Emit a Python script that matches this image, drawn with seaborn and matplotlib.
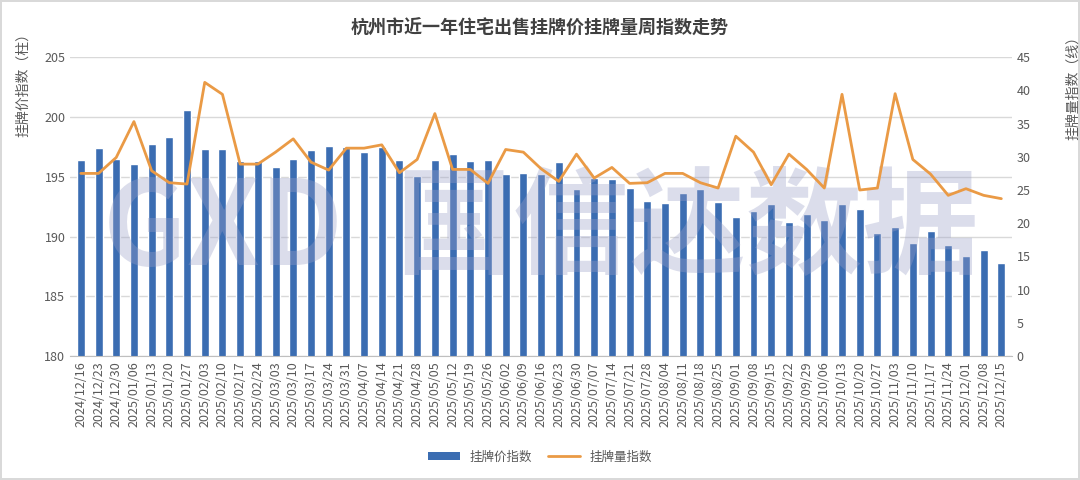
import numpy as np
import pandas as pd
import matplotlib
matplotlib.use("Agg")
import matplotlib.pyplot as plt
import seaborn as sns
from matplotlib.patches import Patch
from matplotlib.lines import Line2D

# weekly dates (Mondays)
weeks = [
    "2024/12/16", "2024/12/23", "2024/12/30", "2025/01/06", "2025/01/13", "2025/01/20",
    "2025/01/27", "2025/02/03", "2025/02/10", "2025/02/17", "2025/02/24", "2025/03/03",
    "2025/03/10", "2025/03/17", "2025/03/24", "2025/03/31", "2025/04/07", "2025/04/14",
    "2025/04/21", "2025/04/28", "2025/05/05", "2025/05/12", "2025/05/19", "2025/05/26",
    "2025/06/02", "2025/06/09", "2025/06/16", "2025/06/23", "2025/06/30", "2025/07/07",
    "2025/07/14", "2025/07/21", "2025/07/28", "2025/08/04", "2025/08/11", "2025/08/18",
    "2025/08/25", "2025/09/01", "2025/09/08", "2025/09/15", "2025/09/22", "2025/09/29",
    "2025/10/06", "2025/10/13", "2025/10/20", "2025/10/27", "2025/11/03", "2025/11/10",
    "2025/11/17", "2025/11/24", "2025/12/01", "2025/12/08", "2025/12/15",
]

# listing price index (bars, left axis)
price_index = [
    196.4, 197.4, 196.5, 196.1, 197.7, 198.3, 200.6, 197.3, 197.3, 196.3,
    196.3, 195.8, 196.5, 197.2, 197.6, 197.5, 197.1, 197.5, 196.4, 195.1,
    196.4, 196.9, 196.3, 196.4, 195.2, 195.3, 195.2, 196.2, 194.0, 194.9,
    194.8, 194.1, 193.0, 192.8, 193.6, 194.0, 192.9, 191.6, 192.1, 192.7,
    191.2, 191.9, 191.4, 192.7, 192.3, 190.3, 190.8, 189.5, 190.5, 189.3,
    188.4, 188.9, 187.8,
]

# listing volume index (line, right axis)
volume_index = [
    27.5, 27.5, 29.9, 35.3, 27.9, 26.1, 25.9, 41.2, 39.4, 28.9,
    28.9, 30.7, 32.7, 29.2, 28.0, 31.3, 31.3, 31.8, 27.6, 29.6,
    36.5, 28.1, 28.1, 26.0, 31.1, 30.7, 28.2, 26.3, 30.4, 26.8,
    28.4, 26.0, 26.1, 27.5, 27.5, 26.1, 25.3, 33.1, 30.7, 25.8,
    30.4, 28.1, 25.3, 39.4, 25.0, 25.3, 39.5, 29.6, 27.4, 24.2,
    25.2, 24.2, 23.7,
]

title = "杭州市近一年住宅出售挂牌价挂牌量周指数走势"
left_label = "挂牌价指数（柱）"
right_label = "挂牌量指数（线）"
bar_name = "挂牌价指数"
line_name = "挂牌量指数"

bar_color = "#3B6DB2"
line_color = "#EA9A45"
text_color = "#595959"

sns.set_style("white")
plt.rcParams["font.family"] = ["Noto Sans CJK SC", "DejaVu Sans"]

df = pd.DataFrame({"week": weeks, "price": price_index, "volume": volume_index})
df["pos"] = np.arange(len(df))

fig = plt.figure(figsize=(10.8, 4.8), dpi=100)
fig.patch.set_edgecolor("#d9d9d9")
fig.patch.set_linewidth(1.5)
ax = fig.add_axes([0.065, 0.258, 0.872, 0.623])

# watermark (faint), kept inside the plot area
ax.text(0.5, 0.42, "GXD  国信达数据", transform=ax.transAxes, fontsize=84,
        fontweight="bold", color="#9aa0c8", alpha=0.35, ha="center", va="center",
        zorder=5)

sns.barplot(data=df, x="week", y="price", color=bar_color, width=0.45,
            saturation=1, ax=ax, zorder=2)
ax.set_ylim(180, 205)
ax.set_yticks(np.arange(180, 206, 5))
ax.set_xlim(-0.6, len(df) - 0.4)
ax.grid(axis="y", color="#d9d9d9", linewidth=1)
ax.set_axisbelow(True)
for s in ["top", "right", "left"]:
    ax.spines[s].set_visible(False)
ax.spines["bottom"].set_color("#bfbfbf")
ax.tick_params(axis="x", rotation=90, labelsize=9, colors=text_color, length=0, pad=4)
ax.tick_params(axis="y", labelsize=9, colors=text_color, length=0)
ax.set_xlabel("")
ax.set_ylabel(left_label, fontsize=10, color=text_color, labelpad=10)
ax.yaxis.set_label_coords(-0.043, 0.92)

ax2 = ax.twinx()
sns.lineplot(data=df, x="pos", y="volume", color=line_color, linewidth=2,
             ax=ax2, zorder=3)
ax2.set_ylim(0, 45)
ax2.set_yticks(np.arange(0, 46, 5))
ax2.set_xlim(-0.6, len(df) - 0.4)
for s in ["top", "right", "left", "bottom"]:
    ax2.spines[s].set_visible(False)
ax2.tick_params(axis="y", labelsize=9, colors=text_color, length=0)
ax2.set_ylabel(right_label, fontsize=10, color=text_color, labelpad=10)
ax2.yaxis.set_label_coords(1.058, 0.91)
ax2.set_xlabel("")

fig.suptitle(title, fontsize=13, fontweight="bold", color="#404040", y=0.96)

handles = [Patch(facecolor=bar_color, edgecolor="none"),
           Line2D([0], [0], color=line_color, linewidth=2)]
fig.legend(handles, [bar_name, line_name], loc="center", bbox_to_anchor=(0.5, 0.048),
           ncol=2, frameon=False, fontsize=9, labelcolor=text_color,
           handlelength=2.6, handleheight=0.6, columnspacing=1.2)

fig.savefig("out.png", dpi=100)
